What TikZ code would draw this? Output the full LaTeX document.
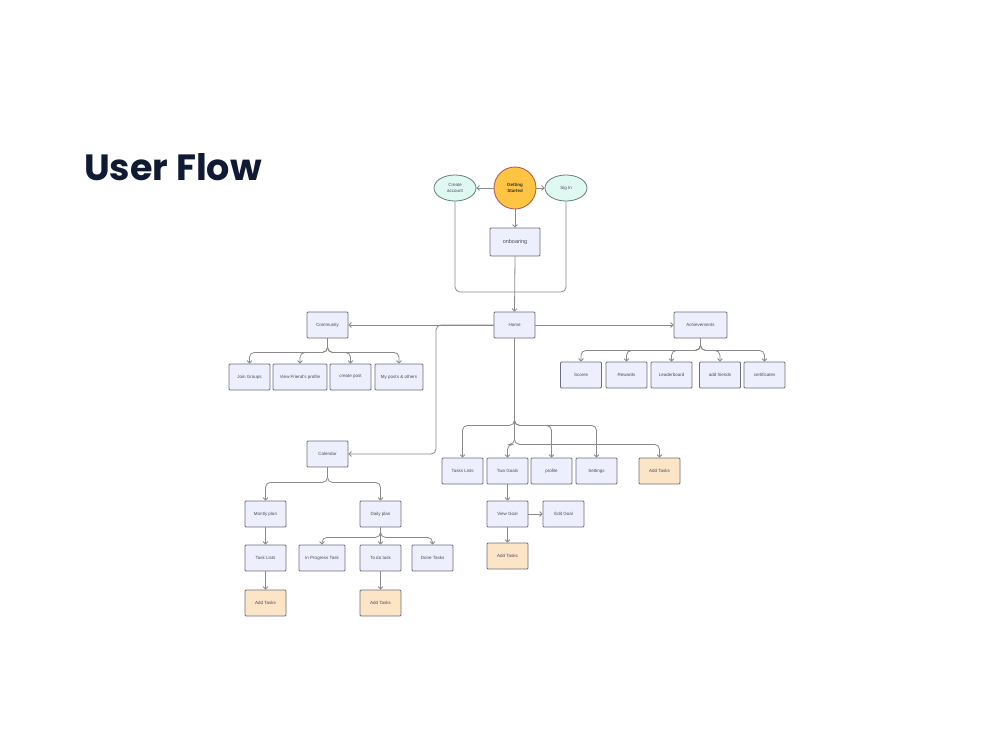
\documentclass[tikz,border=0pt]{standalone}
\usepackage{fontspec}
\setmainfont{Liberation Sans}
\newfontfamily\titlefont{Poppins}
\usetikzlibrary{arrows.meta,shapes.geometric,calc}
\definecolor{boxfill}{HTML}{EEEFFC}
\definecolor{boxline}{HTML}{6E6E7A}
\definecolor{orfill}{HTML}{FCE4C6}
\definecolor{ellfill}{HTML}{E0F8F2}
\definecolor{ellline}{HTML}{5F7F76}
\definecolor{gsfill}{HTML}{FFC442}
\definecolor{gsline}{HTML}{B0605A}
\definecolor{txt}{HTML}{4A4A5A}
\definecolor{wire}{HTML}{8A8A8E}
\definecolor{navy}{HTML}{111A33}
\tikzset{
  box/.style={draw=boxline, fill=boxfill, line width=0.8pt, rounded corners=1pt,
    minimum width=41pt, minimum height=26pt, inner sep=1pt, text=txt,
    font=\fontsize{4.5}{5}\selectfont},
  obox/.style={box, fill=orfill},
  ell/.style={ellipse, draw=ellline, fill=ellfill, line width=0.8pt,
    minimum width=42pt, minimum height=26pt, inner sep=0pt, text=txt,
    font=\fontsize{4.5}{5.5}\selectfont, align=center},
  wireline/.style={draw=wire, line width=0.8pt, rounded corners=5pt},
  arr/.style={wireline, -{Straight Barb[length=2.5pt,width=5pt]}},
}
\begin{document}
\begin{tikzpicture}[x=1pt,y=-1pt]
\useasboundingbox[fill=white] (0,0) rectangle (1000,750);
\node[anchor=base west, text=navy, font=\titlefont\fontsize{36.5}{40}\selectfont\bfseries, inner sep=0pt] (title) at (84,180) {User Flow};

% top
\node[circle, draw=gsline, fill=gsfill, line width=0.9pt, minimum size=42pt, inner sep=0pt,
  align=center, font=\fontsize{4.5}{5.5}\selectfont\bfseries, text=black!80] (gs) at (515,188) {Getting\\Started};
\node[ell] (ca) at (455,188) {Create\\account};
\node[ell] (si) at (566,188) {Sig In};
\node[box, minimum width=50pt, minimum height=28pt, font=\fontsize{5.5}{6}\selectfont] (onb) at (515,242) {onboaring};
\node[box] (home) at (514.5,325) {Home};
\coordinate (merge) at (514.5,292);

% level 1
\node[box] (comm) at (327.5,325) {Community};
\node[box, minimum width=53pt] (ach) at (700.5,325) {Achievements};
\node[box] (cal) at (327.5,454) {Calendar};
\coordinate (calbend) at (436,325);

% community children
\node[box] (jg) at (249.5,377) {Join Groups};
\node[box, minimum width=54pt] (vf) at (300,377) {View Friend's profile};
\node[box] (cp) at (350.5,377) {create post};
\node[box, minimum width=48pt] (mp) at (399,377) {My posts \& others};

% achievements children
\node[box] (sc) at (581,375) {Scores};
\node[box] (rw) at (626.5,375) {Rewards};
\node[box] (lb) at (671.5,375) {Leaderboard};
\node[box] (af) at (720,375) {add friends};
\node[box] (ce) at (764.5,375) {certificates};

% home children
\node[box] (tls) at (462.5,471) {Tasks Lists};
\node[box] (tg) at (507.5,471) {Two Goals};
\node[box] (pr) at (551.5,471) {profile};
\node[box] (st) at (596.5,471) {Settings};
\node[obox] (at1) at (659.5,471) {Add Tasks};
\node[box] (vg) at (507.5,514) {View Goal};
\node[box] (eg) at (563.5,514) {Edit Goal};
\node[obox] (at2) at (507.5,556) {Add Tasks};

% calendar children
\node[box] (mo) at (265.5,514) {Montly plan};
\node[box] (dp) at (380.5,514) {Daily plan};
\node[box] (tl) at (265.5,558) {Task Lists};
\node[obox] (at3) at (265.5,603) {Add Tasks};
\node[box, minimum width=46pt] (ip) at (322,558) {In Progress Task};
\node[box] (td) at (380.5,558) {To do task};
\node[box] (dn) at (432.5,558) {Done Tasks};
\node[obox] (at4) at (380.5,603) {Add Tasks};

% connectors top
\draw[arr] (gs) -- (ca);
\draw[arr] (gs) -- (si);
\draw[arr] (gs) -- (onb);
\draw[wireline] (ca.south) |- (merge);
\draw[wireline] (si.south) |- (merge);
\draw[arr] (onb.south) -- (home.north);

% home to level 1
\draw[arr] (home.west) -- (comm.east);
\draw[arr] (home.east) -- (ach.west);
\draw[arr] (home.west) -- (calbend) |- (cal.east);

% community
\foreach \c in {jg,vf,cp,mp}
  \draw[arr] (comm.south) -- ++(0,14) -| (\c.north);
% achievements
\foreach \c in {sc,rw,lb,af,ce}
  \draw[arr] (ach.south) -- ++(0,12) -| (\c.north);
% home down
\foreach \c in {tls,pr,st}
  \draw[arr] (home.south) -- ++(0,87) -| (\c.north);
\foreach \c in {tg,at1}
  \draw[arr] (home.south) -- ++(0,106) -| (\c.north);
\draw[arr] (tg) -- (vg);
\draw[arr] (vg) -- (eg);
\draw[arr] (vg) -- (at2);

% calendar
\foreach \c in {mo,dp}
  \draw[arr] (cal.south) -- ++(0,15) -| (\c.north);
\draw[arr] (mo) -- (tl);
\draw[arr] (tl) -- (at3);
\foreach \c in {ip,td,dn}
  \draw[arr] (dp.south) -- ++(0,10) -| (\c.north);
\draw[arr] (td) -- (at4);
\end{tikzpicture}
\end{document}
